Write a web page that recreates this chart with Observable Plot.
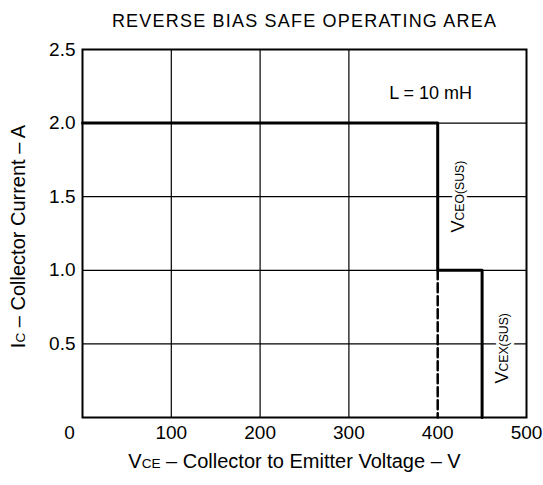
<!DOCTYPE html>
<html><head><meta charset="utf-8">
<script src="https://cdn.jsdelivr.net/npm/d3@7"></script>
<script src="https://cdn.jsdelivr.net/npm/@observablehq/plot@0.6"></script>
<style>
html,body{margin:0;padding:0;background:#fff;}
#chart svg{display:block;}
.ttl text{letter-spacing:1.2px;}
</style></head><body><div id="chart"></div>
<script>
const chartTitle = "REVERSE BIAS SAFE OPERATING AREA";
const xTitle = "V{CE} – Collector to Emitter Voltage – V";
const yTitle = "I{C} – Collector Current – A";
const xTicks = [100, 200, 300, 400, 500];
const xGrid = [100, 200, 300];
const yTicks = [0.5, 1.0, 1.5, 2.0, 2.5];
const yGrid = [0.5, 1.0, 1.5, 2.0];
const originLabel = "0";
const soaVoltage = [0, 400, 400, 450, 450];
const soaCurrent = [2.0, 2.0, 1.0, 1.0, 0];
const dashVoltage = [400, 400];
const dashCurrent = [1.0, 0];
const ceoLabel = "V{CEO(SUS)}";
const cexLabel = "V{CEX(SUS)}";
const noteLabel = "L = 10 mH";

const soa = soaVoltage.map((v, i) => ({v, c: soaCurrent[i]}));
const dash = dashVoltage.map((v, i) => ({v, c: dashCurrent[i]}));
const font = "'Liberation Sans', Arial, Helvetica, sans-serif";

const chart = Plot.plot({
  width: 543, height: 485,
  marginLeft: 82, marginRight: 17, marginTop: 49, marginBottom: 68,
  style: {fontFamily: font, fontSize: "19px", color: "black", background: "white"},
  x: {domain: [0, 500], axis: null},
  y: {domain: [0, 2.5], axis: null},
  marks: [
    Plot.ruleX(xGrid, {stroke: "black", strokeWidth: 1.2}),
    Plot.ruleY(yGrid, {stroke: "black", strokeWidth: 1.2}),
    Plot.frame({stroke: "black", strokeWidth: 2}),
    Plot.line(soa, {x: "v", y: "c", stroke: "black", strokeWidth: 3}),
    Plot.line(dash, {x: "v", y: "c", stroke: "black", strokeWidth: 2.5, strokeDasharray: "9,4"}),
    Plot.axisX({ticks: xTicks, tickSize: 0, tickPadding: 8, label: null, fill: "black"}),
    Plot.axisY({ticks: yTicks, tickSize: 0, tickPadding: 7, label: null, tickFormat: d3.format(".1f"), fill: "black"}),
    Plot.text([originLabel], {x: 0, y: 0, dx: -13, dy: 15, fontSize: 19, fill: "black"}),
    Plot.text([noteLabel], {x: 392, y: 2.2, fontSize: 18, fill: "black"}),
    Plot.text([ceoLabel], {x: 423, y: 1.5, rotate: -90, fontSize: 18, fill: "black", stroke: "white", strokeWidth: 6, paintOrder: "stroke", className: "rich"}),
    Plot.text([cexLabel], {x: 473, y: 0.47, rotate: -90, fontSize: 18, fill: "black", stroke: "white", strokeWidth: 6, paintOrder: "stroke", className: "rich"}),
    Plot.text([chartTitle], {frameAnchor: "top", lineAnchor: "middle", textAnchor: "middle", dy: -28, fontSize: 18, fill: "black", className: "ttl"}),
    Plot.text([xTitle], {frameAnchor: "bottom", lineAnchor: "middle", textAnchor: "middle", dx: -10, dy: 44, fontSize: 20, fill: "black", className: "rich"}),
    Plot.text([yTitle], {frameAnchor: "left", rotate: -90, lineAnchor: "middle", textAnchor: "middle", dx: -64, dy: 3, fontSize: 20, fill: "black", className: "rich"})
  ]
});
document.getElementById("chart").appendChild(chart);

d3.select(chart).selectAll("g.rich text").each(function() {
  const el = d3.select(this);
  const parts = this.textContent.split(/(\{[^}]*\})/).filter(s => s.length);
  el.text(null);
  for (const p of parts) {
    if (p.startsWith("{")) {
      el.append("tspan").attr("font-size", "0.68em").text(p.slice(1, -1));
    } else {
      el.append("tspan").text(p);
    }
  }
});
</script></body></html>
